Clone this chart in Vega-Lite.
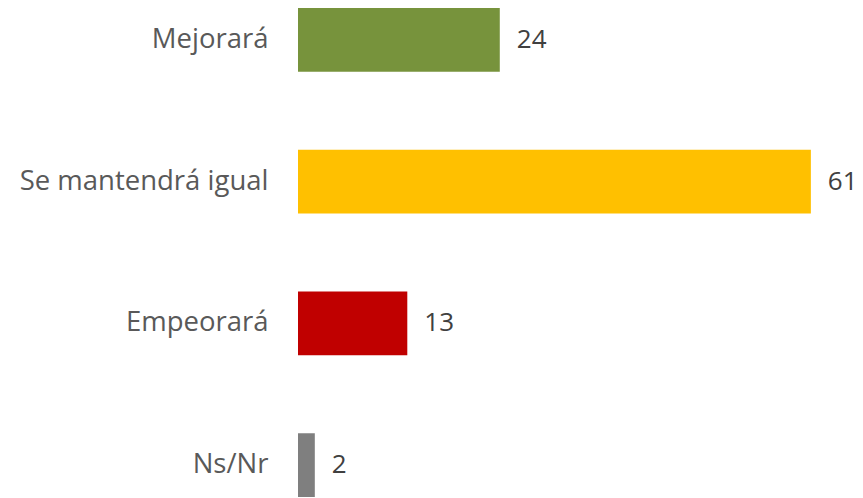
{
  "$schema": "https://vega.github.io/schema/vega-lite/v6.json",
  "autosize": "none",
  "padding": {"left": 298, "top": 1, "right": 0, "bottom": 0},
  "width": 565,
  "height": 503,
  "background": "white",
  "config": {"view": {"stroke": null}, "font": "Open Sans"},
  "data": {"values": [
    {"cat": "Mejorará", "val": 24, "color": "#77933C"},
    {"cat": "Se mantendrá igual", "val": 61, "color": "#FFC000"},
    {"cat": "Empeorará", "val": 13, "color": "#C00000"},
    {"cat": "Ns/Nr", "val": 2, "color": "#7F7F7F"}
  ]},
  "encoding": {
    "y": {"field": "cat", "type": "nominal", "sort": null,
      "scale": {"paddingInner": 0.55, "paddingOuter": 0.05},
      "axis": {"title": null, "domain": false, "ticks": false, "labelPadding": 30, "labelFontSize": 27.5, "labelColor": "#595959", "labelFont": "Open Sans", "labelLimit": 400}},
    "x": {"field": "val", "type": "quantitative", "scale": {"domain": [0, 67.2], "nice": false, "zero": true}, "axis": null}
  },
  "layer": [
    {"mark": {"type": "bar"}, "encoding": {"color": {"field": "color", "type": "nominal", "scale": null}}},
    {"mark": {"type": "text", "align": "left", "baseline": "middle", "dx": 17, "fontSize": 26, "color": "#404040", "font": "Open Sans"},
     "encoding": {"text": {"field": "val", "type": "quantitative"}}}
  ]
}
